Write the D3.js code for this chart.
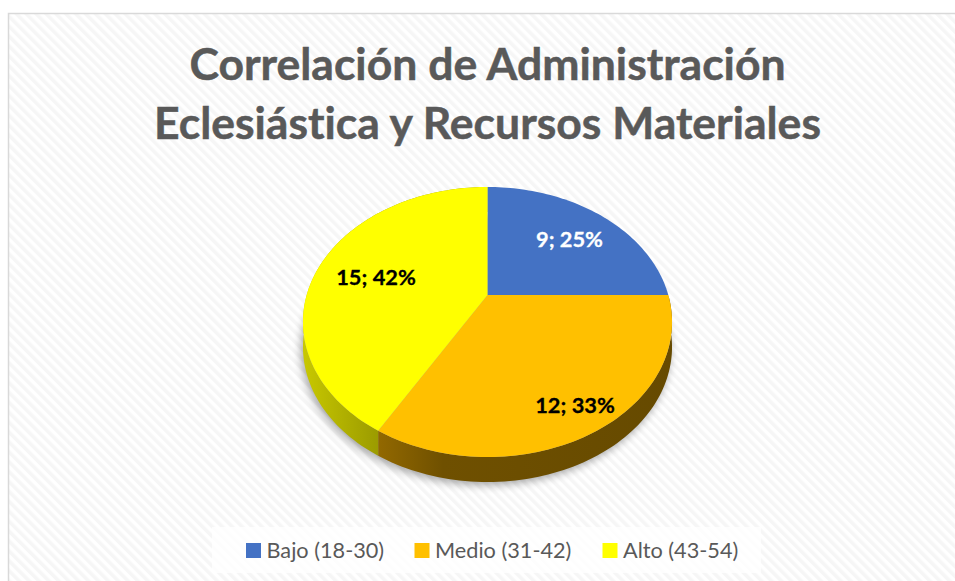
<!DOCTYPE html>
<html>
<head>
<meta charset="utf-8">
<script src="https://cdnjs.cloudflare.com/ajax/libs/d3/7.8.5/d3.min.js"></script>
<style>
  html, body { margin: 0; padding: 0; background: #fff; overflow: hidden; }
  svg { display: block; }
  text { font-family: Lato, "Open Sans", sans-serif; font-variant-ligatures: none; }
</style>
</head>
<body>
<div id="chart"></div>
<script>
const categories = ['Bajo (18-30)', 'Medio (31-42)', 'Alto (43-54)'];
const values = [9, 12, 15];
const percents = ['25%', '33%', '42%'];
const titleLines = ['Correlación de Administración', 'Eclesiástica y Recursos Materiales'];

const colors = ['#4472c4', '#ffc000', '#ffff00'];
const labelColors = ['#fff', '#000', '#000'];

const width = 955, height = 581;
const svg = d3.select('#chart').append('svg').attr('width', width).attr('height', height);
const defs = svg.append('defs');

// striped chart background
const stripes = defs.append('pattern')
  .attr('id', 'stripes').attr('width', 7).attr('height', 7)
  .attr('patternUnits', 'userSpaceOnUse').attr('patternTransform', 'rotate(-45)');
stripes.append('rect').attr('width', 7).attr('height', 7).attr('fill', '#fff');
stripes.append('rect').attr('width', 3.5).attr('height', 7).attr('fill', '#f6f6f6');

const blur = defs.append('filter').attr('id', 'soft').attr('x', '-20%').attr('y', '-20%').attr('width', '140%').attr('height', '140%');
blur.append('feGaussianBlur').attr('stdDeviation', 4);

// side wall gradients
function wallGradient(id, stops) {
  const g = defs.append('linearGradient').attr('id', id)
    .attr('gradientUnits', 'userSpaceOnUse')
    .attr('x1', 303).attr('x2', 672).attr('y1', 0).attr('y2', 0);
  stops.forEach(s => g.append('stop').attr('offset', s[0]).attr('stop-color', s[1]));
}
wallGradient('wall-medio', [[0.2, '#936900'], [0.38, '#6f5000'], [1, '#664a00']]);
wallGradient('wall-alto', [[0, '#c8c800'], [0.2, '#9c9c00']]);

svg.append('rect').attr('x', 8.5).attr('y', 13.5).attr('width', 960).attr('height', 600)
  .attr('fill', 'url(#stripes)').attr('stroke', '#d9d9d9').attr('stroke-width', 1.5);

// title
svg.append('g').selectAll('text').data(titleLines).join('text')
  .attr('x', 487.5).attr('y', (d, i) => 80 + i * 59)
  .attr('text-anchor', 'middle').attr('font-size', 44.5).attr('font-weight', 700)
  .attr('stroke', '#595959').attr('stroke-width', 0.5)
  .attr('fill', '#595959').text(d => d);

// perspective pie: unit circle projected so the centre sits above the ellipse middle
const cx = 487.5, cy = 295, radX = 180.8, radY = 129.6, tilt = 0.2, depth = 25;
const xScale = d3.scaleLinear().domain([-1, 1]).range([cx - radX, cx + radX]);
const yScale = d3.scaleLinear().domain([-1, 1]).range([cy + radY, cy - radY]);
function project(a, r) {
  const u = r * Math.sin(a), v = r * Math.cos(a), w = 1 + tilt * v;
  return [xScale(u / w), yScale(v / w)];
}
function rim(a0, a1) {
  const n = Math.max(2, Math.ceil((a1 - a0) * 40));
  return d3.range(n + 1).map(i => project(a0 + (a1 - a0) * i / n, 1));
}
const line = d3.line();
const arcs = d3.pie().sort(null)(values);
const down = p => [p[0], p[1] + depth];

// soft shadow under the pie
const fullRim = rim(0, 2 * Math.PI);
svg.append('path').attr('d', line(fullRim.map(p => [p[0] - 2, p[1] + depth + 3])) + 'Z')
  .attr('fill', '#000').attr('opacity', 0.35).attr('filter', 'url(#soft)');

// side wall, only the front half of the rim shows
const wallIds = [null, 'wall-medio', 'wall-alto'];
arcs.forEach((d, i) => {
  if (!wallIds[i]) return;
  const top = rim(d.startAngle, d.endAngle);
  svg.append('path').attr('d', line(top.concat(top.slice().reverse().map(down))) + 'Z')
    .attr('fill', `url(#${wallIds[i]})`);
});

// top faces
svg.append('g').selectAll('path').data(arcs).join('path')
  .attr('d', d => line([project(0, 0)].concat(rim(d.startAngle, d.endAngle))) + 'Z')
  .attr('fill', (d, i) => colors[i]);

// data labels
const labelPos = [[569.5, 239.5], [575, 405.5], [376, 277.5]];
svg.append('g').selectAll('text').data(arcs).join('text')
  .attr('x', (d, i) => labelPos[i][0]).attr('y', (d, i) => labelPos[i][1] + 7)
  .attr('text-anchor', 'middle').attr('font-size', 21.8).attr('font-weight', 700)
  .attr('stroke', (d, i) => labelColors[i]).attr('stroke-width', 0.3)
  .attr('fill', (d, i) => labelColors[i])
  .text((d, i) => `${d.value}; ${percents[i]}`);

// legend
svg.append('rect').attr('x', 212).attr('y', 527).attr('width', 549).attr('height', 46)
  .attr('fill', '#fff').attr('opacity', 0.8);
const legendX = [246, 414.5, 602.5];
const legend = svg.append('g').selectAll('g').data(categories).join('g')
  .attr('transform', (d, i) => `translate(${legendX[i]},543)`);
legend.append('rect').attr('width', 15).attr('height', 15).attr('fill', (d, i) => colors[i]);
legend.append('text').attr('x', 20.5).attr('y', 15).attr('font-size', 21.7)
  .attr('fill', '#595959').text(d => d);
</script>
</body>
</html>
